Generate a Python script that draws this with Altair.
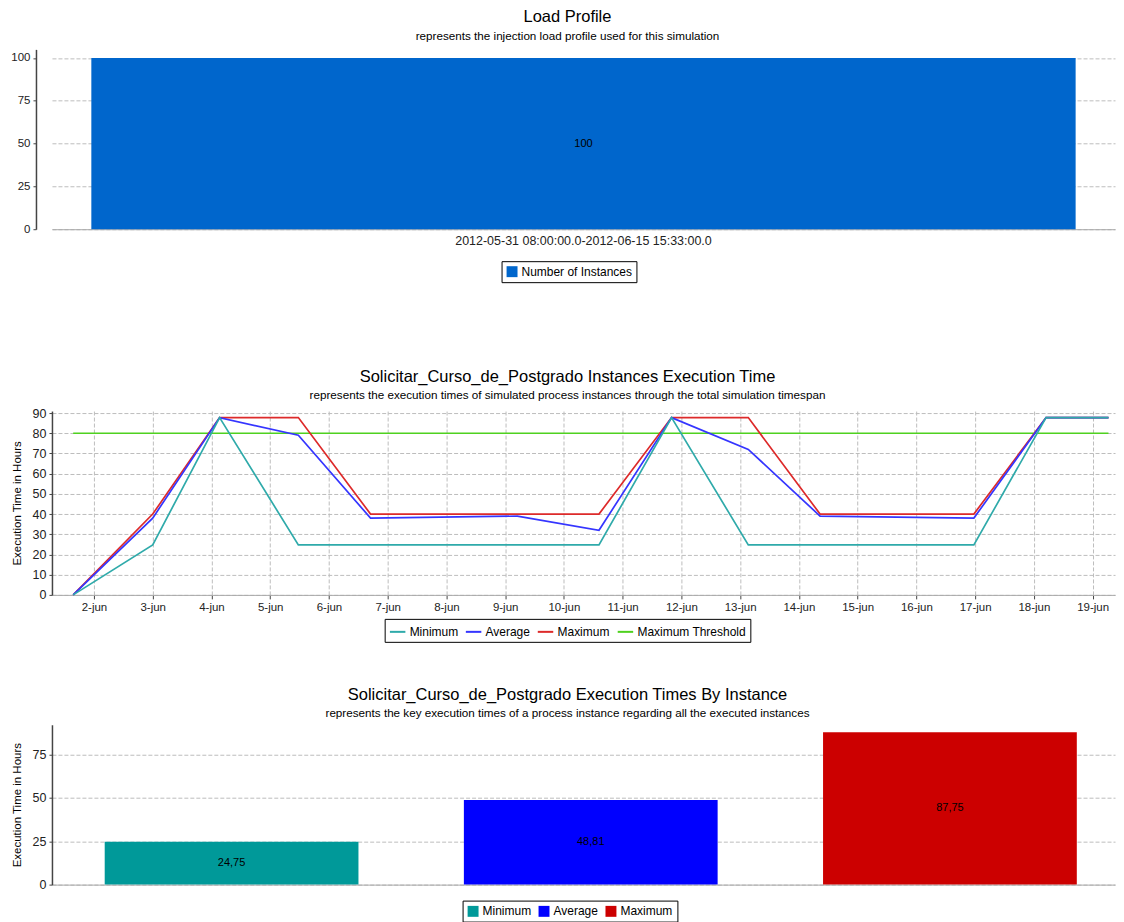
import altair as alt
import pandas as pd

# ---------------- data ----------------
load_periods = ["2012-05-31 08:00:00.0-2012-06-15 15:33:00.0"]
load_values = [100]
load_series = ["Number of Instances"]

exec_times = [
    "2012-06-01T15:30:00", "2012-06-03T00:00:00", "2012-06-04T03:20:00",
    "2012-06-05T11:30:00", "2012-06-06T17:00:00", "2012-06-09T05:00:00",
    "2012-06-10T14:20:00", "2012-06-11T20:00:00", "2012-06-13T03:20:00",
    "2012-06-14T08:40:00", "2012-06-16T23:30:00", "2012-06-18T05:00:00",
    "2012-06-19T06:30:00",
]
exec_min = [0, 24.75, 87.75, 24.75, 24.75, 24.75, 24.75, 87.75, 24.75, 24.75, 24.75, 87.75, 87.75]
exec_avg = [0, 38, 87.75, 79, 38, 39, 32, 87.75, 72, 39, 38, 87.75, 87.75]
exec_max = [0, 40, 87.75, 87.75, 40, 40, 40, 87.75, 87.75, 40, 40, 87.75, 87.75]
threshold_value = 80
line_series = ["Minimum", "Average", "Maximum", "Maximum Threshold"]
line_colors = ["#2FAAAA", "#3535FF", "#DD2A2A", "#4FD11F"]

summary_series = ["Minimum", "Average", "Maximum"]
summary_values = [24.75, 48.81, 87.75]
summary_colors = ["#009999", "#0000FF", "#CC0000"]

# ---------------- frames ----------------
top_df = pd.DataFrame({"period": load_periods, "value": load_values, "series": load_series})

rows = []
for t in exec_times:
    rows.append({"time": t, "value": threshold_value, "series": "Maximum Threshold"})
for t, v in zip(exec_times, exec_max):
    rows.append({"time": t, "value": v, "series": "Maximum"})
for t, v in zip(exec_times, exec_avg):
    rows.append({"time": t, "value": v, "series": "Average"})
for t, v in zip(exec_times, exec_min):
    rows.append({"time": t, "value": v, "series": "Minimum"})
line_df = pd.DataFrame(rows)

bar_df = pd.DataFrame({"series": summary_series, "value": summary_values})

FONT = "Liberation Sans"
PLOT_W = 1064
GRID = dict(gridColor="#bdbdbd", gridDash=[4, 2], gridWidth=1)


def legend(x, y, symbol, col_pad=6):
    return alt.Legend(
        title=None, orient="none", legendX=x, legendY=y, direction="horizontal",
        symbolType=symbol, strokeColor="black", fillColor="white", padding=4,
        labelFontSize=12, labelFont=FONT, labelColor="black", columnPadding=col_pad,
        labelOffset=3,
        symbolSize=120 if symbol == "square" else 240, symbolStrokeWidth=2,
        symbolOpacity=1,
    )


# ---------------- top: load profile ----------------
top_base = alt.Chart(top_df)
top_bar = top_base.mark_bar().encode(
    x=alt.X("period:N", title=None,
            scale=alt.Scale(paddingInner=0, paddingOuter=0.04),
            axis=alt.Axis(labelAngle=0, ticks=False, grid=False, domainColor="#aaaaaa",
                          labelFontSize=12.5, labelPadding=5, labelLimit=600)),
    y=alt.Y("value:Q", title=None, scale=alt.Scale(domain=[0, 105], nice=False),
            axis=alt.Axis(values=[0, 25, 50, 75, 100], offset=16, labelFontSize=11.5, **GRID)),
    color=alt.Color("series:N", scale=alt.Scale(domain=load_series, range=["#0066CC"]),
                    legend=legend(450, 212, "square")),
)
top_text = top_base.transform_calculate(mid="datum.value / 2").mark_text(
    fontSize=11, font=FONT, color="black").encode(
    x=alt.X("period:N"), y=alt.Y("mid:Q"), text=alt.Text("value:Q"))
top_chart = alt.layer(top_bar, top_text).properties(
    width=PLOT_W, height=180,
    title=alt.TitleParams("Load Profile", dx=-16, offset=7,
                          subtitle="represents the injection load profile used for this simulation"),
)

# ---------------- middle: execution time lines ----------------
mid_chart = alt.Chart(line_df).mark_line(strokeWidth=1.7).encode(
    x=alt.X("time:T", title=None,
            scale=alt.Scale(domain=[alt.DateTime(year=2012, month=6, date=1, hours=6, minutes=50),
                                    alt.DateTime(year=2012, month=6, date=19, hours=9, minutes=10)]),
            axis=alt.Axis(tickCount={"interval": "day", "step": 1},
                          labelExpr="lower(timeFormat(datum.value, '%-d-%b'))",
                          domainColor="#aaaaaa", tickColor="#444444", tickSize=4,
                          labelFontSize=11.5, labelPadding=3, **GRID)),
    y=alt.Y("value:Q", title="Execution Time in Hours",
            scale=alt.Scale(domain=[0, 91], nice=False),
            axis=alt.Axis(values=list(range(0, 91, 10)), labelFontSize=12.5, titlePadding=10, **GRID)),
    color=alt.Color("series:N", scale=alt.Scale(domain=line_series, range=line_colors),
                    legend=legend(333, 208, "stroke", col_pad=3)),
    detail="series:N",
).properties(
    width=PLOT_W, height=184,
    title=alt.TitleParams("Solicitar_Curso_de_Postgrado Instances Execution Time", dx=-16, offset=5,
                          subtitle="represents the execution times of simulated process instances through the total simulation timespan"),
)

# ---------------- bottom: summary bars ----------------
bot_base = alt.Chart(bar_df)
bot_bar = bot_base.mark_bar().encode(
    x=alt.X("series:N", title=None, sort=summary_series,
            scale=alt.Scale(paddingInner=0.2935, paddingOuter=0.1266, align=0.58),
            axis=alt.Axis(labels=False, ticks=False, grid=False, domainColor="#aaaaaa")),
    y=alt.Y("value:Q", title="Execution Time in Hours",
            scale=alt.Scale(domain=[0, 92.1], nice=False),
            axis=alt.Axis(values=[0, 25, 50, 75], labelFontSize=12.5, titlePadding=10, **GRID)),
    color=alt.Color("series:N", scale=alt.Scale(domain=summary_series, range=summary_colors),
                    legend=legend(411, 176, "square")),
)
bot_text = bot_base.transform_calculate(
    mid="datum.value / 2",
    label="replace(format(datum.value, '.2f'), '.', ',')",
).mark_text(fontSize=11, font=FONT, color="black").encode(
    x=alt.X("series:N", sort=summary_series), y=alt.Y("mid:Q"), text="label:N")
bot_chart = alt.layer(bot_bar, bot_text).properties(
    width=PLOT_W, height=160,
    title=alt.TitleParams("Solicitar_Curso_de_Postgrado Execution Times By Instance", dx=-16, offset=5,
                          subtitle="represents the key execution times of a process instance regarding all the executed instances"),
)

lower = alt.vconcat(mid_chart, bot_chart, spacing=43).resolve_scale(color="independent").resolve_legend(color="independent")
chart = alt.vconcat(top_chart, lower, spacing=85).resolve_scale(color="independent").resolve_legend(color="independent")

chart = chart.properties(
    padding={"left": 2, "top": 0, "right": 1, "bottom": 0},
).configure(font=FONT).configure_view(stroke=None).configure_title(
    fontSize=16.5, fontWeight="normal", color="black", subtitleFontSize=11.7,
    subtitleColor="black", subtitlePadding=5, anchor="middle",
).configure_axis(
    labelFont=FONT, labelFontSize=12, labelColor="#222222", titleFont=FONT,
    titleFontSize=11.5, titleFontWeight="normal", titleColor="black", titlePadding=6,
    domainColor="#444444", domainWidth=1.5, tickColor="#444444", tickSize=3, labelPadding=3,
).configure_axisX(domainWidth=1)

chart.save("out.html", embed_options={"renderer": "svg", "actions": False})
